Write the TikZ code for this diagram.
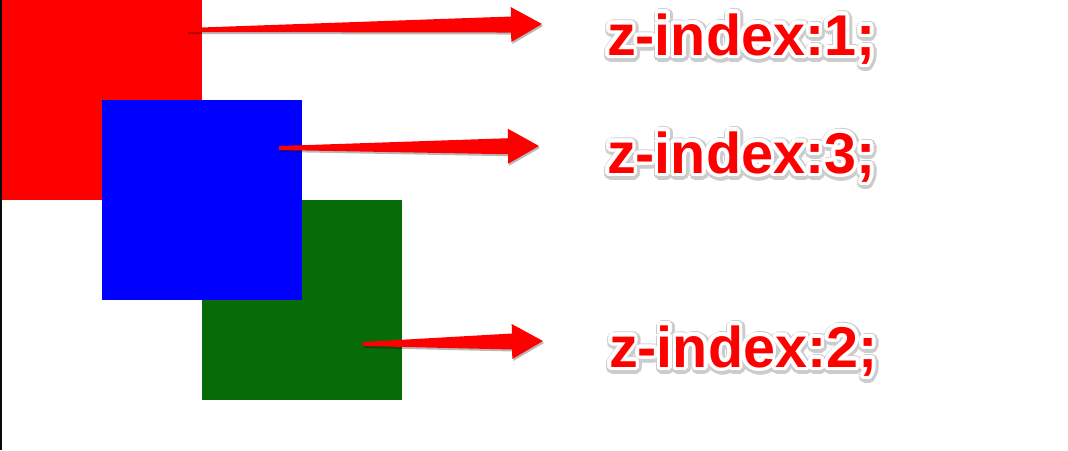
\documentclass[tikz,border=0pt]{standalone}
\usepackage{fontspec}
\setmainfont{Liberation Sans}
\usetikzlibrary{calc}
\definecolor{zred}{RGB}{255,0,0}
\definecolor{zblue}{RGB}{0,0,255}
\definecolor{zgreen}{RGB}{7,107,7}
\definecolor{zedge}{RGB}{10,10,10}
\tikzset{
  square/.style={draw=none,inner sep=0pt,outer sep=0pt,minimum width=200pt,minimum height=200pt,anchor=north west},
  arrowfill/.style={fill=zred},
  arrowshadow/.style={fill=black,opacity=0.28},
  ztxt/.style={inner sep=0pt,outer sep=0pt,anchor=base west,font=\bfseries\fontsize{57.5}{60}\selectfont},
}
\newcommand\zarrow[2]{%
  \coordinate (hb) at ($(#2)!31pt!(#1)$);
  \fill[arrowshadow,transform canvas={shift={(1pt,-2pt)}}] ($(#1)!2pt!90:(#2)$) -- ($(hb)!8pt!90:(#2)$) -- ($(hb)!17.5pt!90:(#2)$) -- (#2) -- ($(hb)!17.5pt!-90:(#2)$) -- ($(hb)!8pt!-90:(#2)$) -- ($(#1)!2pt!-90:(#2)$) -- cycle;
  \fill[arrowfill] ($(#1)!2pt!90:(#2)$) -- ($(hb)!8pt!90:(#2)$) -- ($(hb)!17.5pt!90:(#2)$) -- (#2) -- ($(hb)!17.5pt!-90:(#2)$) -- ($(hb)!8pt!-90:(#2)$) -- ($(#1)!2pt!-90:(#2)$) -- cycle;
}
\newcommand\ztext[3]{%
  \foreach \a in {0,20,...,340}{
    \node[ztxt,text=black!20] at ($(#2)+({5.8*cos(\a)+1},{5.8*sin(\a)+1.5})$) {#3};
  }
  \foreach \a in {0,20,...,340}{
    \node[ztxt,text=white] at ($(#2)+({3.8*cos(\a)},{3.8*sin(\a)})$) {#3};
  }
  \node[ztxt,text=zred] (#1) at (#2) {#3};
}
\begin{document}
\begin{tikzpicture}[x=1pt,y=-1pt]
\useasboundingbox (0,0) rectangle (1068,450);
\fill[white] (0,0) rectangle (1068,450);
\fill[zedge] (0,0) rectangle (2,450);
\node[square,fill=zred] (r) at (2,0) {};
\node[square,fill=zgreen] (g) at (202,200) {};
\node[square,fill=zblue] (b) at (102,100) {};
% arrows
\coordinate (t1) at (187,30);  \coordinate (h1) at (542,24);
\coordinate (t2) at (279,148); \coordinate (h2) at (539,146);
\coordinate (t3) at (363,344); \coordinate (h3) at (543,341);
\zarrow{t1}{h1}
\zarrow{t2}{h2}
\zarrow{t3}{h3}
% labels
\coordinate (p1) at (607,55);
\coordinate (p2) at (607,173);
\coordinate (p3) at (609,367);
\ztext{l1}{p1}{z-index:1;}
\ztext{l2}{p2}{z-index:3;}
\ztext{l3}{p3}{z-index:2;}
\end{tikzpicture}
\end{document}
